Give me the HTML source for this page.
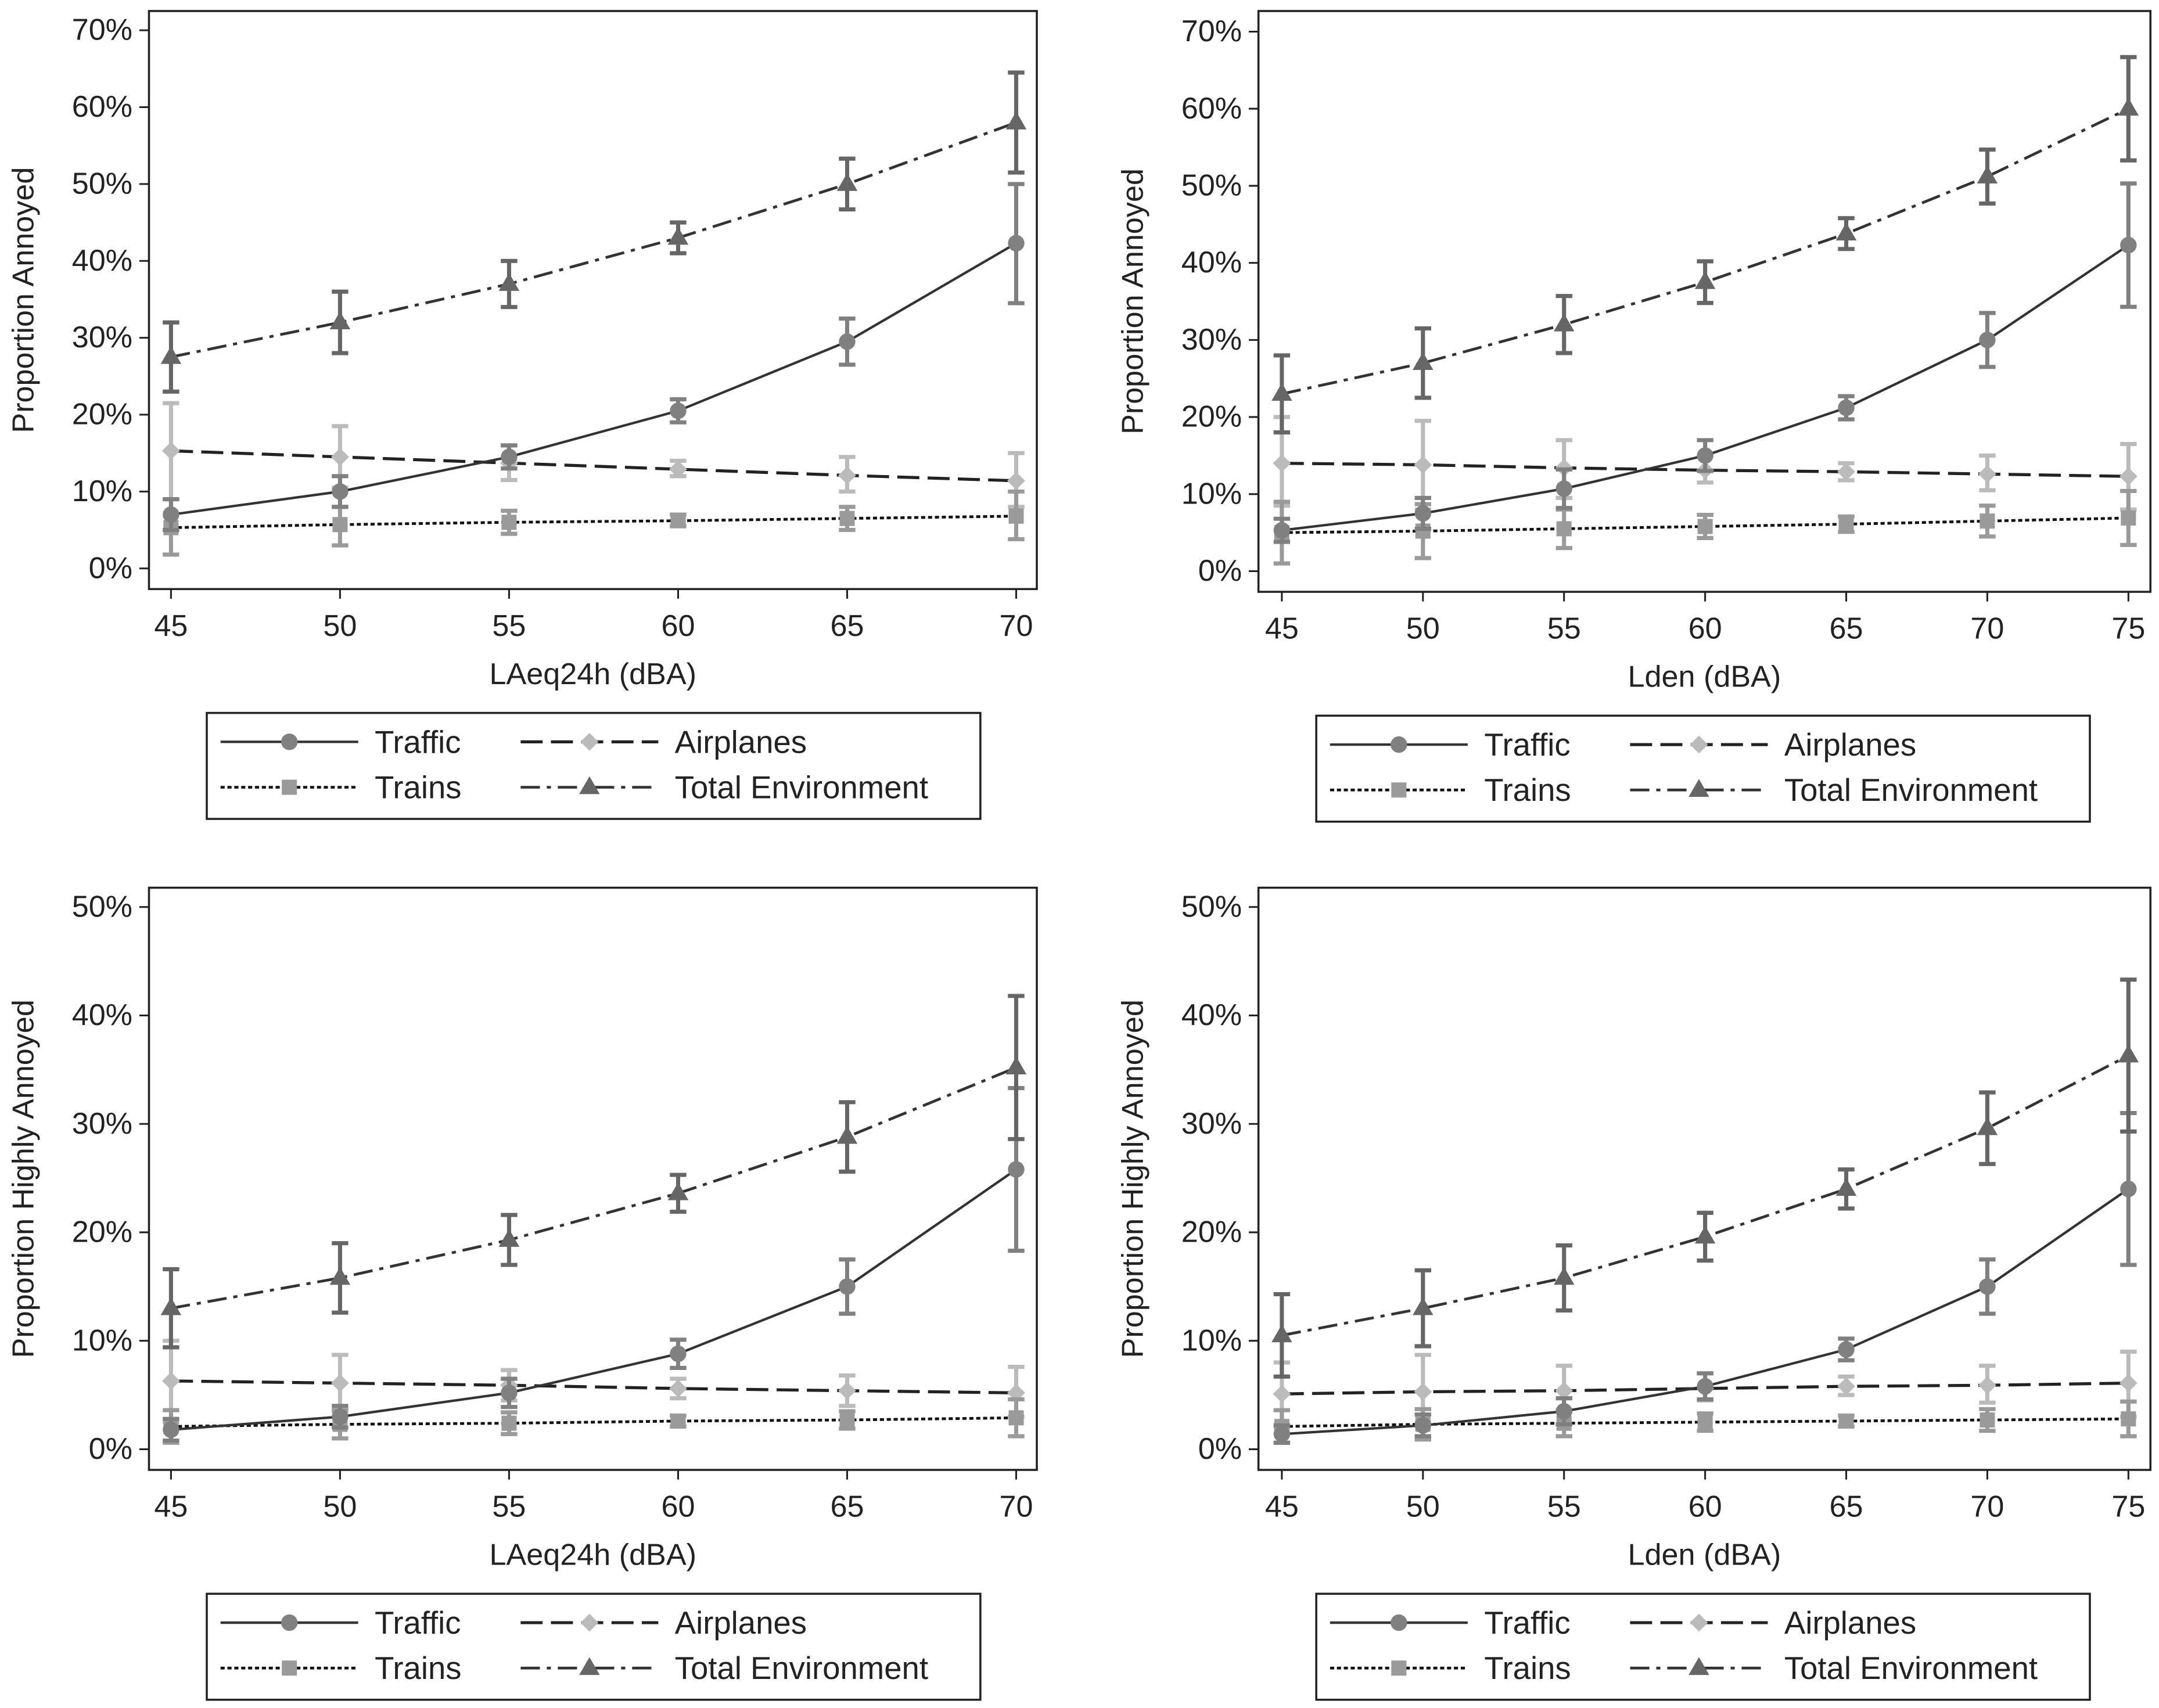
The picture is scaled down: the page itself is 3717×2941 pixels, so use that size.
<!DOCTYPE html>
<html><head><meta charset="utf-8"><style>
html,body{margin:0;padding:0;background:#fff}
svg{display:block}
text{font-family:"Liberation Sans",Arial,sans-serif;fill:#222}
</style></head><body>
<svg id="fig" width="3717" height="2941" viewBox="0 0 1568 1241" xmlns="http://www.w3.org/2000/svg"></svg>
<script>
// ---- data ----
const xA = [45,50,55,60,65,70];
const xB = [45,50,55,60,65,70,75];
// Panel 1: Annoyed vs LAeq24h
const p1Traffic = [7,10,14.5,20.5,29.5,42.3];
const p1TrafficLo = [5,8,13,19,26.5,34.5];
const p1TrafficHi = [9,12,16,22,32.5,50];
const p1Air = [15.3,14.5,13.7,12.9,12.1,11.4];
const p1AirLo = [9,10.5,11.5,12,10,8];
const p1AirHi = [21.5,18.5,16,14,14.5,15];
const p1Train = [5.3,5.7,6,6.2,6.5,6.8];
const p1TrainLo = [1.8,3,4.5,5.5,5,3.8];
const p1TrainHi = [9,8,7.5,7,8,10];
const p1Total = [27.5,32,37,43,50,58];
const p1TotalLo = [23,28,34,41,46.7,51.5];
const p1TotalHi = [32,36,40,45,53.3,64.5];
// Panel 2: Annoyed vs Lden
const p2Traffic = [5.3,7.5,10.7,15,21.2,30,42.3];
const p2TrafficLo = [3.8,5.5,8.2,13,19.7,26.5,34.3];
const p2TrafficHi = [6.8,9.5,13.2,17,22.7,33.5,50.3];
const p2Air = [14,13.8,13.4,13.1,12.9,12.6,12.3];
const p2AirLo = [8.5,8,9.5,11.5,11.8,10.5,8];
const p2AirHi = [20,19.5,17,15,14,15,16.5];
const p2Train = [5,5.2,5.5,5.8,6.1,6.5,6.9];
const p2TrainLo = [1,1.7,3,4.3,5.1,4.5,3.4];
const p2TrainHi = [9,8.7,8,7.3,7.1,8.5,10.4];
const p2Total = [23,27,32,37.5,43.8,51.2,60];
const p2TotalLo = [18,22.5,28.3,34.8,41.8,47.7,53.3];
const p2TotalHi = [28,31.5,35.7,40.2,45.8,54.7,66.7];
// Panel 3: Highly annoyed vs LAeq24h
const p3Traffic = [1.8,3,5.2,8.8,15,25.8];
const p3TrafficLo = [0.8,2,3.9,7.5,12.5,18.3];
const p3TrafficHi = [2.8,4,6.5,10.1,17.5,33.3];
const p3Air = [6.3,6.1,5.9,5.6,5.4,5.2];
const p3AirLo = [2.5,3.5,4.5,4.7,4,3];
const p3AirHi = [10,8.7,7.3,6.5,6.8,7.6];
const p3Train = [2.1,2.3,2.4,2.6,2.7,2.9];
const p3TrainLo = [0.6,1,1.4,2.1,1.9,1.2];
const p3TrainHi = [3.6,3.6,3.4,3.1,3.5,4.6];
const p3Total = [13,15.8,19.3,23.6,28.8,35.2];
const p3TotalLo = [9.4,12.6,17,21.9,25.6,28.6];
const p3TotalHi = [16.6,19,21.6,25.3,32,41.8];
// Panel 4: Highly annoyed vs Lden
const p4Traffic = [1.4,2.2,3.5,5.8,9.2,15,24];
const p4TrafficLo = [0.6,1.2,2.3,4.6,8.2,12.5,17];
const p4TrafficHi = [2.2,3.2,4.7,7,10.2,17.5,31];
const p4Air = [5.1,5.3,5.4,5.6,5.8,5.9,6.1];
const p4AirLo = [2,2.5,3.5,4.5,5,4.3,3];
const p4AirHi = [8,8.7,7.7,7,6.7,7.7,9];
const p4Train = [2.1,2.3,2.4,2.5,2.6,2.7,2.8];
const p4TrainLo = [0.6,0.9,1.2,1.7,2.1,1.7,1.2];
const p4TrainHi = [3.6,3.7,3.6,3.3,3.1,3.7,4.4];
const p4Total = [10.5,13,15.8,19.6,24,29.6,36.3];
const p4TotalLo = [6.7,9.5,12.8,17.4,22.2,26.3,29.3];
const p4TotalHi = [14.3,16.5,18.8,21.8,25.8,32.9,43.3];
const ticks70 = [0,10,20,30,40,50,60,70];
const ticks50 = [0,10,20,30,40,50];

const NS="http://www.w3.org/2000/svg";
const svg=document.getElementById('fig');
function mk(tag,attrs,parent){const e=document.createElementNS(NS,tag);for(const k in attrs)e.setAttribute(k,attrs[k]);(parent||svg).appendChild(e);return e;}

const styles={
 traffic:{line:'#333',dash:'',mk:'#808080',shape:'circle',w:1.8},
 air:{line:'#222',dash:'16 6',mk:'#bbbbbb',shape:'diamond',w:2.2},
 train:{line:'#111',dash:'3 2',mk:'#9a9a9a',shape:'square',w:2},
 total:{line:'#333',dash:'14 5 3 5',mk:'#666',shape:'tri',w:2}
};
function marker(g,shape,cx,cy,col){
 let e;
 if(shape==='circle')e=mk('circle',{cx,cy,r:6,fill:col},g);
 else if(shape==='square')e=mk('rect',{x:cx-5.5,y:cy-5.5,width:11,height:11,fill:col},g);
 else if(shape==='diamond')e=mk('polygon',{points:`${cx},${cy-6.5} ${cx+6.5},${cy} ${cx},${cy+6.5} ${cx-6.5},${cy}`,fill:col},g);
 else e=mk('polygon',{points:`${cx},${cy-8} ${cx+7.5},${cy+5} ${cx-7.5},${cy+5}`,fill:col},g);
 
 
}

function panel(o){
 const g=mk('g',{});
 
 
 const xs=v=>o.x0+(v-o.xs[0])/(o.xs[o.xs.length-1]-o.xs[0])*(o.x1-o.x0);
 const ys=v=>o.y0+(v/o.ymax)*(o.yTop-o.y0);
 const box=mk('rect',{x:o.bx,y:o.by,width:o.bw,height:o.bh,fill:'none',stroke:'#222','stroke-width':1.5},g);
 
 o.ticks.forEach(t=>{
  mk('line',{x1:o.bx-7,x2:o.bx,y1:ys(t),y2:ys(t),stroke:'#222','stroke-width':1.3},g);
  const tx=mk('text',{x:o.bx-12,y:ys(t)+7,'text-anchor':'end','font-size':22},g);tx.textContent=t+'%';
  
 });
 o.xs.forEach(v=>{
  mk('line',{x1:xs(v),x2:xs(v),y1:o.by+o.bh,y2:o.by+o.bh+7,stroke:'#222','stroke-width':1.3},g);
  const tx=mk('text',{x:xs(v),y:o.by+o.bh+34,'text-anchor':'middle','font-size':22},g);tx.textContent=v;
  
 });
 const yl=mk('text',{x:0,y:0,'text-anchor':'middle','font-size':22,transform:`translate(${o.bx-84},${o.by+o.bh/2}) rotate(-90)`},g);
 yl.textContent=o.ylabel;
 const xl=mk('text',{x:o.bx+o.bw/2,y:o.by+o.bh+69,'text-anchor':'middle','font-size':22},g);
 xl.textContent=o.xlabel;
 o.series.forEach(s=>{
  const st=styles[s.key];
  const sg=mk('g',{},g);
  
  o.xs.forEach((v,i)=>{
   const x=xs(v),a=ys(s.lo[i]),b=ys(s.hi[i]);
   mk('line',{x1:x,x2:x,y1:a,y2:b,stroke:st.mk,'stroke-width':3},sg);
   mk('line',{x1:x-6,x2:x+6,y1:a,y2:a,stroke:st.mk,'stroke-width':3},sg);
   mk('line',{x1:x-6,x2:x+6,y1:b,y2:b,stroke:st.mk,'stroke-width':3},sg);
  });
  const pts=o.xs.map((v,i)=>xs(v)+','+ys(s.v[i])).join(' ');
  const pl=mk('polyline',{points:pts,fill:'none',stroke:st.line,'stroke-width':st.w,'stroke-dasharray':st.dash},sg);
  
  o.xs.forEach((v,i)=>marker(sg,st.shape,xs(v),ys(s.v[i]),st.mk));
 });
 const L=o.leg;
 const lg=mk('g',{},g);
 
 mk('rect',{x:L.x,y:L.y,width:562,height:77,fill:'#fff',stroke:'#222','stroke-width':1.5},lg);
 const ents=[['traffic','Traffic',0,0],['air','Airplanes',1,0],['train','Trains',0,1],['total','Total Environment',1,1]];
 ents.forEach(([k,lab,c,r])=>{
  const st=styles[k];
  const eg=mk('g',{},lg);
  
  const lx=L.x+10+c*218, ly=L.y+21+r*33;
  mk('line',{x1:lx,x2:lx+100,y1:ly,y2:ly,stroke:st.line,'stroke-width':st.w,'stroke-dasharray':st.dash},eg);
  marker(eg,st.shape,lx+50,ly,st.mk);
  const t=mk('text',{x:lx+112,y:ly+8,'font-size':23},eg);t.textContent=lab;
 });
}

panel({name:'panel-annoyed-laeq24h',bx:108,by:8,bw:645,bh:420,x0:124,x1:738,y0:413,yTop:22,ymax:70,xs:xA,ticks:ticks70,
 ylabel:'Proportion Annoyed',xlabel:'LAeq24h (dBA)',leg:{x:150,y:518},
 series:[{key:'air',v:p1Air,lo:p1AirLo,hi:p1AirHi},{key:'train',v:p1Train,lo:p1TrainLo,hi:p1TrainHi},
  {key:'traffic',v:p1Traffic,lo:p1TrafficLo,hi:p1TrafficHi},{key:'total',v:p1Total,lo:p1TotalLo,hi:p1TotalHi}]});
panel({name:'panel-annoyed-lden',bx:914,by:8,bw:648,bh:422,x0:931,x1:1546,y0:415,yTop:23,ymax:70,xs:xB,ticks:ticks70,
 ylabel:'Proportion Annoyed',xlabel:'Lden (dBA)',leg:{x:956,y:520},
 series:[{key:'air',v:p2Air,lo:p2AirLo,hi:p2AirHi},{key:'train',v:p2Train,lo:p2TrainLo,hi:p2TrainHi},
  {key:'traffic',v:p2Traffic,lo:p2TrafficLo,hi:p2TrafficHi},{key:'total',v:p2Total,lo:p2TotalLo,hi:p2TotalHi}]});
panel({name:'panel-highly-annoyed-laeq24h',bx:108,by:645,bw:645,bh:423,x0:124,x1:738,y0:1053,yTop:659,ymax:50,xs:xA,ticks:ticks50,
 ylabel:'Proportion Highly Annoyed',xlabel:'LAeq24h (dBA)',leg:{x:150,y:1158},
 series:[{key:'air',v:p3Air,lo:p3AirLo,hi:p3AirHi},{key:'train',v:p3Train,lo:p3TrainLo,hi:p3TrainHi},
  {key:'traffic',v:p3Traffic,lo:p3TrafficLo,hi:p3TrafficHi},{key:'total',v:p3Total,lo:p3TotalLo,hi:p3TotalHi}]});
panel({name:'panel-highly-annoyed-lden',bx:914,by:645,bw:648,bh:423,x0:931,x1:1546,y0:1053,yTop:659,ymax:50,xs:xB,ticks:ticks50,
 ylabel:'Proportion Highly Annoyed',xlabel:'Lden (dBA)',leg:{x:956,y:1158},
 series:[{key:'air',v:p4Air,lo:p4AirLo,hi:p4AirHi},{key:'train',v:p4Train,lo:p4TrainLo,hi:p4TrainHi},
  {key:'traffic',v:p4Traffic,lo:p4TrafficLo,hi:p4TrafficHi},{key:'total',v:p4Total,lo:p4TotalLo,hi:p4TotalHi}]});
</script>
</body></html>
